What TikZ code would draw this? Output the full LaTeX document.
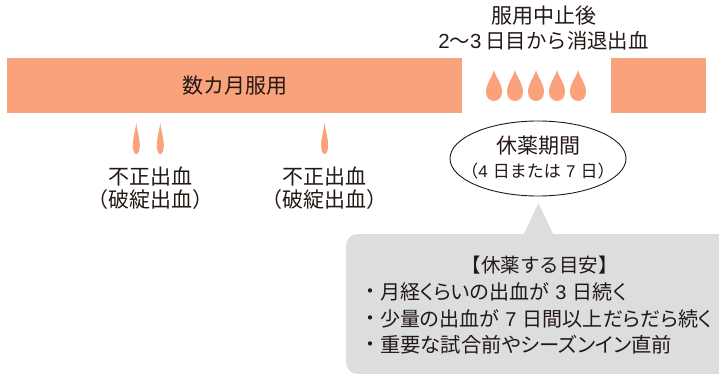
\documentclass[tikz,border=0pt]{standalone}
\usepackage{fontspec}
\newfontfamily\cjk{Noto Sans CJK JP}
\newfontfamily\cjkp[RawFeature=+palt]{Noto Sans CJK JP}
\newfontfamily\latn{Liberation Sans}
\newcommand{\digit}[1]{\hspace{.32em}{\latn #1}\hspace{.32em}}
\definecolor{barorange}{HTML}{F9A27B}
\definecolor{calloutgrey}{HTML}{DCDDDE}
\definecolor{inkgrey}{HTML}{231815}
\tikzset{
  label21/.style={inner sep=0pt,text=inkgrey,font=\fontsize{21pt}{22pt}\selectfont\cjk},
  label17/.style={inner sep=0pt,text=inkgrey,font=\fontsize{17pt}{18pt}\selectfont\cjk},
  calloutline/.style={inner sep=0pt,anchor=west,text=inkgrey,font=\fontsize{20pt}{22pt}\selectfont\cjkp},
  bulletmark/.style={inner sep=0pt,text=inkgrey,font=\fontsize{20pt}{22pt}\selectfont\cjk},
  barpart/.style={fill=barorange,draw=none},
  dropfill/.style={fill=barorange,draw=none}
}
\begin{document}
\begin{tikzpicture}[x=1pt,y=-1pt]
\useasboundingbox (0,0) rectangle (719,374);
% bars
\fill[barpart] (7,58) rectangle (462,113);
\fill[barpart] (611,58) rectangle (706,113);
% wide drops
\foreach \cx in {494,515,536,557,578}{
  \fill[dropfill] (\cx,70) .. controls (\cx+2,78) and (\cx+8,83) .. (\cx+8,92)
    .. controls (\cx+8,98) and (\cx+4,101) .. (\cx,101)
    .. controls (\cx-4,101) and (\cx-8,98) .. (\cx-8,92)
    .. controls (\cx-8,83) and (\cx-2,78) .. (\cx,70) -- cycle;
}
% thin drops
\foreach \cx in {136.3,160.3,324.6}{
  \fill[dropfill] (\cx,123) .. controls (\cx+1,131) and (\cx+3.5,138) .. (\cx+3.5,145)
    .. controls (\cx+3.5,151) and (\cx+2,154) .. (\cx,154)
    .. controls (\cx-2,154) and (\cx-3.5,151) .. (\cx-3.5,145)
    .. controls (\cx-3.5,138) and (\cx-1,131) .. (\cx,123) -- cycle;
}
% ellipse
\draw[inkgrey,line width=0.9pt] (538,158.5) ellipse [x radius=88,y radius=37.5];
% callout
\fill[calloutgrey] (719,234) -- (553,234) -- (538.5,203) -- (524,234) -- (358,234)
  .. controls (351,234) and (346,239) .. (346,246) -- (346,362)
  .. controls (346,369) and (351,374) .. (358,374) -- (719,374) -- cycle;
% texts
\node[label21] (after1) at (543.5,16) {服用中止後};
\node[inner sep=0pt,text=inkgrey,font=\fontsize{20.4pt}{22pt}\selectfont\cjk] (after2) at (543.5,41) {{\latn 2}〜{\latn 3}\hspace{.2em}日目から消退出血};
\node[label21] (bar) at (234.5,85.5) {数カ月服用};
\node[label21] (rest1) at (538,146) {休薬期間};
\node[label17] (rest2) at (538,171) {（{\latn 4}\hspace{.3em}日または\hspace{.3em}{\latn 7}\hspace{.3em}日）};
\node[label21] (spot1a) at (150,177) {不正出血};
\node[label21] (spot1b) at (150,200) {（破綻出血）};
\node[label21] (spot2a) at (324.5,177) {不正出血};
\node[label21] (spot2b) at (324.5,200) {（破綻出血）};
\node[inner sep=0pt,text=inkgrey,font=\fontsize{19.5pt}{22pt}\selectfont\cjk] (head) at (539.5,265) {【休薬する目安】};
\node[bulletmark] (b1) at (370,294) {・};
\node[bulletmark] (b2) at (370,321) {・};
\node[bulletmark] (b3) at (370,347) {・};
\node[calloutline] (l1) at (380,292) {月経くらいの出血が\digit{3}日続く};
\node[calloutline] (l2) at (380,319) {少量の出血が\digit{7}日間以上だらだら続く};
\node[calloutline,font=\fontsize{20.3pt}{22pt}\selectfont\cjkp] (l3) at (380,345) {重要な試合前やシーズンイン直前};
\end{tikzpicture}
\end{document}
